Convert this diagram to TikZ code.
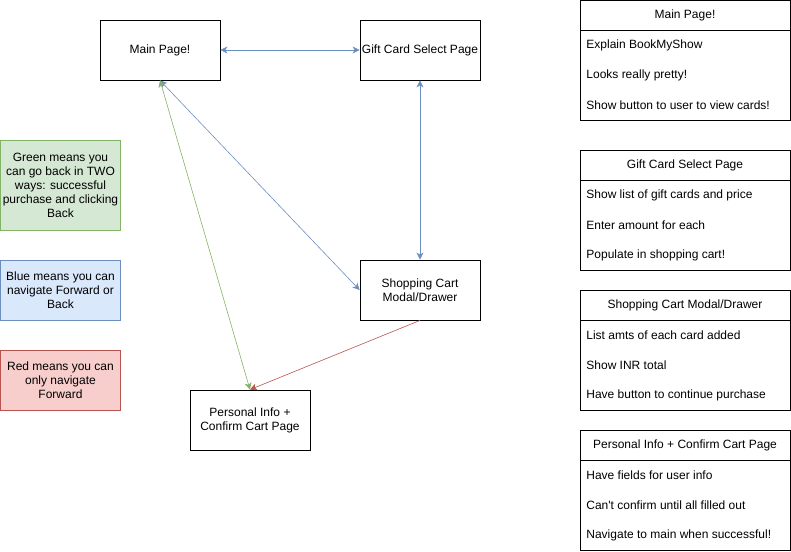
\documentclass[tikz,border=0pt]{standalone}
\usepackage{fontspec}
\setmainfont{Liberation Sans}
\usetikzlibrary{arrows.meta}

\definecolor{bluestroke}{HTML}{6C8EBF}
\definecolor{bluefill}{HTML}{DAE8FC}
\definecolor{greenstroke}{HTML}{82B366}
\definecolor{greenfill}{HTML}{D5E8D4}
\definecolor{redstroke}{HTML}{B85450}
\definecolor{redfill}{HTML}{F8CECC}

\begin{document}
\begin{tikzpicture}[x=1pt,y=-1pt,line width=0.8pt,
    font=\fontsize{12}{14}\selectfont,
    page/.style={draw,minimum width=120pt,minimum height=60pt,inner sep=0pt,align=center},
    legend/.style={draw,minimum width=120pt,inner sep=0pt,align=center},
    listhead/.style={draw,minimum width=210pt,minimum height=30pt,inner sep=0pt},
    listbody/.style={draw,minimum width=210pt,minimum height=90pt,inner sep=0pt},
    listitem/.style={anchor=west,inner sep=0pt},
    tip/.tip={Stealth[length=7pt,width=7pt,inset=2pt]},
    both/.style={tip-tip,line width=0.6pt},
    fwd/.style={-tip,line width=0.6pt}]
      \useasboundingbox (0,0) rectangle (791,551);

      % pages
      \node[page] (main) at (160,50) {Main Page!};
      \node[page] (gift) at (420,50) {Gift Card Select Page};
      \node[page] (cart) at (420,290) {Shopping Cart\\Modal/Drawer};
      \node[page] (info) at (250,420) {Personal Info +\\Confirm Cart Page};

      % colour key
      \node[legend,fill=greenfill,draw=greenstroke,minimum height=90pt] (greenkey) at (60.5,185)
      {Green means you\\can go back in TWO\\ways: successful\\purchase and clicking\\Back};
      \node[legend,fill=bluefill,draw=bluestroke,minimum height=60pt] (bluekey) at (60.5,290)
      {Blue means you can\\navigate Forward or\\Back};
      \node[legend,fill=redfill,draw=redstroke,minimum height=60pt] (redkey) at (60.5,380)
      {Red means you can\\only navigate\\Forward};

      % navigation
      \draw[both,bluestroke] (main.east) -- (gift.west);
      \draw[both,bluestroke] (gift.south) -- (cart.north);
      \draw[both,bluestroke] (main.south) -- (cart.west);
      \draw[both,greenstroke] (main.south) -- (info.north);
      \draw[fwd,redstroke] (cart.south) -- (info.north);

      % page notes
      \node[listbody] (mainlist) at (685,75.5) {};
      \node[listhead] (mainhead) at (685,15.5) {Main Page!};
      \node[listitem] (main1) at (586,45) {Explain BookMyShow};
      \node[listitem] (main2) at (586,75) {Looks really pretty!};
      \node[listitem] (main3) at (586,105) {Show button to user to view cards!};

      \node[listbody] (giftlist) at (685,225) {};
      \node[listhead] (gifthead) at (685,165) {Gift Card Select Page};
      \node[listitem] (gift1) at (586,195) {Show list of gift cards and price};
      \node[listitem] (gift2) at (586,225) {Enter amount for each};
      \node[listitem] (gift3) at (586,255) {Populate in shopping cart!};

      \node[listbody] (cartlist) at (685,365) {};
      \node[listhead] (carthead) at (685,305) {Shopping Cart Modal/Drawer};
      \node[listitem] (cart1) at (586,335) {List amts of each card added};
      \node[listitem] (cart2) at (586,365) {Show INR total};
      \node[listitem] (cart3) at (586,395) {Have button to continue purchase};

      \node[listbody] (infolist) at (685,505) {};
      \node[listhead] (infohead) at (685,445) {Personal Info + Confirm Cart Page};
      \node[listitem] (info1) at (586,475) {Have fields for user info};
      \node[listitem] (info2) at (586,505) {Can\textquotesingle t confirm until all filled out};
      \node[listitem] (info3) at (586,535) {Navigate to main when successful!};
    \end{tikzpicture}
\end{document}
